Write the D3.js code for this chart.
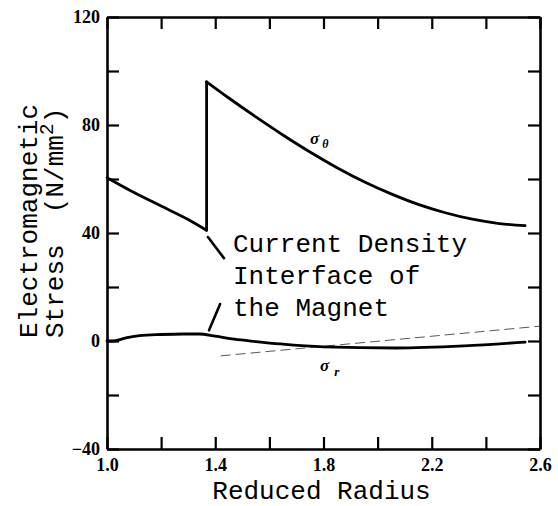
<!DOCTYPE html>
<html>
<head>
<meta charset="utf-8">
<script src="https://cdn.jsdelivr.net/npm/d3@7/dist/d3.min.js"></script>
<style>
  html, body { margin: 0; padding: 0; background: #fff; }
  svg { display: block; }
</style>
</head>
<body>
<svg id="chart" width="558" height="506"></svg>
<script>
// ---- data ----
const xTicks = [1.0, 1.2, 1.4, 1.6, 1.8, 2.0, 2.2, 2.4, 2.6];
const xTickLabels = ["1.0", "1.4", "1.8", "2.2", "2.6"];
const yTicks = [-40, -20, 0, 20, 40, 60, 80, 100, 120];
const yTickLabels = ["\u221240", "0", "40", "80", "120"];

// sigma_theta, inside the current-density interface
const thetaInnerR = [1.0, 1.1, 1.2, 1.3, 1.368];
const thetaInnerV = [60.5, 55.0, 50.0, 45.0, 41.0];
// sigma_theta, outside the interface
const thetaOuterR = [1.368, 1.45, 1.55, 1.65, 1.75, 1.85, 1.95, 2.05, 2.15, 2.25, 2.35, 2.45, 2.545];
const thetaOuterV = [96.0, 90.0, 83.0, 76.3, 70.0, 64.2, 59.0, 54.5, 50.6, 47.5, 45.1, 43.5, 42.7];

// sigma_r
const radialR = [1.0, 1.03, 1.07, 1.12, 1.2, 1.28, 1.34, 1.4, 1.47, 1.55, 1.64, 1.8, 2.07, 2.32, 2.545];
const radialV = [0.0, 0.1, 1.2, 2.0, 2.4, 2.6, 2.6, 1.8, 0.7, -0.2, -1.1, -2.2, -2.6, -1.8, -0.4];

// faint dashed guide line
const guideR = [1.42, 2.6];
const guideV = [-5.5, 5.5];

// annotation
const noteLines = ["Current Density", "Interface of", "the Magnet"];
const arrowFromR = [1.432, 1.418];
const arrowFromV = [30.7, 13.7];
const arrowToR = [1.373, 1.377];
const arrowToV = [38.5, 4.0];

// ---- layout ----
const svg = d3.select("#chart");
const L = 107, R = 540, T = 17, B = 449;
const x = d3.scaleLinear().domain([1.0, 2.6]).range([L, R]);
const y = d3.scaleLinear().domain([-40, 120]).range([B, T]);

const mono = "'Liberation Mono', 'Courier New', monospace";
const serif = "'Liberation Serif', 'Times New Roman', serif";

// axes with inward ticks
const tickLen = 12;
const fmtX = d => xTickLabels.includes(d.toFixed(1)) ? d.toFixed(1) : "";
const fmtY = d => {
  const s = d < 0 ? "\u2212" + Math.abs(d) : String(d);
  return yTickLabels.includes(s) ? s : "";
};

const gBottom = svg.append("g").attr("transform", `translate(0,${B})`)
  .call(d3.axisBottom(x).tickValues(xTicks).tickSizeInner(-tickLen).tickSizeOuter(0).tickPadding(9).tickFormat(fmtX));
const gTop = svg.append("g").attr("transform", `translate(0,${T})`)
  .call(d3.axisTop(x).tickValues(xTicks).tickSizeInner(-tickLen).tickSizeOuter(0).tickFormat(""));
const gLeft = svg.append("g").attr("transform", `translate(${L},0)`)
  .call(d3.axisLeft(y).tickValues(yTicks).tickSizeInner(-tickLen).tickSizeOuter(0).tickPadding(7).tickFormat(fmtY));
const gRight = svg.append("g").attr("transform", `translate(${R},0)`)
  .call(d3.axisRight(y).tickValues(yTicks).tickSizeInner(-tickLen).tickSizeOuter(0).tickFormat(""));

[gBottom, gTop, gLeft, gRight].forEach(g => {
  g.select(".domain").attr("stroke", "#000").attr("stroke-width", 2.6);
  g.selectAll(".tick line").attr("stroke", "#000").attr("stroke-width", 2.2);
  g.selectAll(".tick text").attr("fill", "#000")
    .style("font-family", serif).style("font-size", "18px").style("font-weight", "bold");
});

// axis titles
svg.append("text")
  .attr("x", (L + R) / 2 - 2).attr("y", 499)
  .attr("text-anchor", "middle")
  .style("font-family", mono).style("font-size", "26px").attr("fill", "#000")
  .text("Reduced Radius");

const yTitle = svg.append("g").attr("transform", "translate(0,338) rotate(-90)");
yTitle.append("text")
  .attr("x", 0).attr("y", 37)
  .style("font-family", mono).style("font-size", "26px").attr("fill", "#000")
  .text("Electromagnetic");
const t2 = yTitle.append("text")
  .attr("x", 0).attr("y", 63)
  .style("font-family", mono).style("font-size", "26px").attr("fill", "#000")
  .attr("xml:space", "preserve");
t2.append("tspan").text("Stress  (N/mm");
t2.append("tspan").attr("dy", -10).style("font-size", "20px").text("2");
t2.append("tspan").attr("dy", 10).text(")");

// curves
const line = d3.line().x(d => x(d[0])).y(d => y(d[1])).curve(d3.curveMonotoneX);
const zip = (a, b) => a.map((v, i) => [v, b[i]]);

svg.append("path")
  .datum(zip(guideR, guideV))
  .attr("d", d3.line().x(d => x(d[0])).y(d => y(d[1])))
  .attr("fill", "none").attr("stroke", "#444").attr("stroke-width", 0.9)
  .attr("stroke-dasharray", "10,5");

const curveStyle = p => p.attr("fill", "none").attr("stroke", "#000")
  .attr("stroke-width", 2.8).attr("stroke-linejoin", "round").attr("stroke-linecap", "round");

svg.append("path").datum(zip(thetaInnerR, thetaInnerV)).attr("d", line).call(curveStyle);
svg.append("path").datum(zip(thetaOuterR, thetaOuterV)).attr("d", line).call(curveStyle);
// jump at the interface
svg.append("path")
  .datum([[thetaInnerR[thetaInnerR.length - 1], thetaInnerV[thetaInnerV.length - 1]],
          [thetaOuterR[0], thetaOuterV[0]]])
  .attr("d", d3.line().x(d => x(d[0])).y(d => y(d[1])))
  .call(curveStyle);
svg.append("path").datum(zip(radialR, radialV)).attr("d", line).call(curveStyle);

// curve labels
const lbl1 = svg.append("text").attr("x", x(1.75)).attr("y", y(73))
  .style("font-family", serif).style("font-style", "italic").style("font-weight", "bold").style("font-size", "17px").attr("fill", "#000");
lbl1.append("tspan").text("\u03c3");
lbl1.append("tspan").attr("dx", 3).attr("dy", 4).style("font-size", "12px").text("\u03b8");

const lbl2 = svg.append("text").attr("x", x(1.787)).attr("y", y(-11))
  .style("font-family", serif).style("font-style", "italic").style("font-weight", "bold").style("font-size", "17px").attr("fill", "#000");
lbl2.append("tspan").text("\u03c3");
lbl2.append("tspan").attr("dx", 5).attr("dy", 5).style("font-size", "13px").text("r");

// annotation text
const note = svg.append("text").style("font-family", mono).style("font-size", "26px").attr("fill", "#000");
noteLines.forEach((s, i) => {
  note.append("tspan").attr("x", 233).attr("y", 252 + i * 32).text(s);
});

// annotation pointers
arrowFromR.forEach((r, i) => {
  svg.append("line")
    .attr("x1", x(r)).attr("y1", y(arrowFromV[i]))
    .attr("x2", x(arrowToR[i])).attr("y2", y(arrowToV[i]))
    .attr("stroke", "#000").attr("stroke-width", 2.6).attr("stroke-linecap", "round");
});
</script>
</body>
</html>
